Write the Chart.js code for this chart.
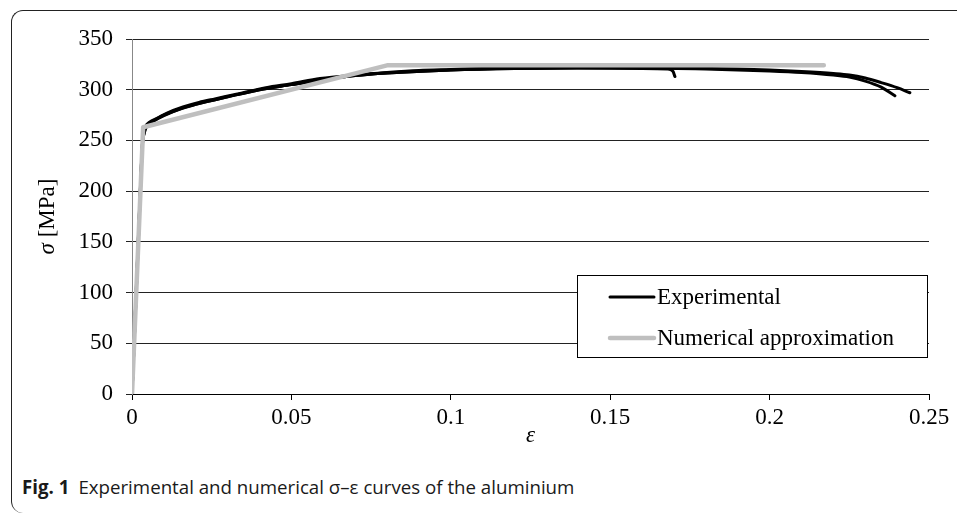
<!DOCTYPE html>
<html>
<head>
<meta charset="utf-8">
<script src="https://cdn.jsdelivr.net/npm/chart.js@4/dist/chart.umd.min.js"></script>
<style>
  html, body { margin: 0; padding: 0; background: #fff; }
  body { width: 957px; height: 515px; position: relative; overflow: hidden; }
  #frame {
    position: absolute; left: 11px; top: 10px; width: 960px; height: 503px;
    border-left: 1px solid #222; border-top: 1px solid #222;
    border-radius: 12px 0 0 12px; box-sizing: border-box;
  }
  #wrap { position: absolute; left: 0; top: 0; width: 957px; height: 460px; }
  #caption {
    position: absolute; left: 22px; top: 474px; font-family: "Open Sans", sans-serif;
    font-size: 18.7px; color: #1a1a1a; white-space: nowrap;
  }
  #caption b { font-weight: 700; margin-right: 9px; }
</style>
</head>
<body>
<div id="frame"></div>
<div id="wrap"><canvas id="chart"></canvas></div>
<div id="caption"><b>Fig. 1</b>Experimental and numerical σ–ε curves of the aluminium</div>
<script>
// experimental specimen 1 (longest)
const expStrain1 = [0, 0.0013, 0.0026, 0.0033, 0.0037, 0.0043, 0.0055, 0.008, 0.011, 0.016, 0.021, 0.026, 0.032, 0.042, 0.05, 0.059, 0.07, 0.08, 0.09, 0.1, 0.11, 0.12, 0.135, 0.15, 0.165, 0.18, 0.19, 0.2, 0.21, 0.22, 0.225, 0.23, 0.235, 0.24, 0.244];
const expStress1 = [0, 100, 200, 248, 258, 264, 268, 272, 277, 283, 287.5, 291, 295, 302, 306, 311, 314.5, 317, 319, 320, 321, 321.5, 322, 322, 321.5, 321, 320.5, 319.5, 318, 316, 314.5, 311.5, 307, 302, 297];
// experimental specimen 2
const expStrain2 = [0, 0.0013, 0.0026, 0.0033, 0.0038, 0.0045, 0.007, 0.01, 0.015, 0.02, 0.03, 0.04, 0.05, 0.06, 0.07, 0.08, 0.1, 0.12, 0.14, 0.16, 0.18, 0.2, 0.21, 0.22, 0.225, 0.23, 0.235, 0.2393];
const expStress2 = [0, 98, 198, 247, 257, 264, 269.5, 274.5, 281, 285.5, 293, 300, 305, 310, 314, 316.5, 319.5, 321, 321.5, 321.5, 320.5, 318.5, 317, 314.5, 312.5, 308.5, 302.5, 294];
// experimental specimen 3 (early break)
const expStrain3 = [0, 0.0013, 0.0026, 0.0033, 0.0038, 0.0046, 0.007, 0.01, 0.015, 0.02, 0.03, 0.04, 0.05, 0.06, 0.07, 0.08, 0.1, 0.12, 0.14, 0.16, 0.168, 0.1697, 0.1703];
const expStress3 = [0, 98, 199, 247, 257, 264, 270, 275, 281, 285.5, 293, 300, 305, 310, 314, 316.5, 319.5, 321, 321.5, 321, 320.5, 318, 313];
// numerical approximation (bilinear)
const numStrain = [0, 0.0035, 0.08, 0.217];
const numStress = [0, 263, 324, 324];

const xTicks = [0, 0.05, 0.1, 0.15, 0.2, 0.25];
const yTicks = [0, 50, 100, 150, 200, 250, 300, 350];

const toPoints = (xs, ys) => xs.map((x, i) => ({ x: x, y: ys[i] }));

const serif = '"Liberation Serif", "Times New Roman", serif';

const titlesAndLegend = {
    id: 'titlesAndLegend',
    afterDraw(chart) {
        const ctx = chart.ctx;
        const area = chart.chartArea;
        ctx.save();
        // y axis title: italic sigma + [MPa]
        const a = 'σ', b = ' [MPa]';
        ctx.font = 'italic 23px ' + serif;
        const wa = ctx.measureText(a).width;
        ctx.font = '23px ' + serif;
        const wb = ctx.measureText(b).width;
        ctx.translate(54, (area.top + area.bottom) / 2);
        ctx.rotate(-Math.PI / 2);
        ctx.fillStyle = '#000';
        ctx.textBaseline = 'alphabetic';
        ctx.textAlign = 'left';
        ctx.font = 'italic 23px ' + serif;
        ctx.fillText(a, -(wa + wb) / 2, 0);
        ctx.font = '23px ' + serif;
        ctx.fillText(b, -(wa + wb) / 2 + wa, 0);
        ctx.restore();

        // x axis title
        ctx.save();
        ctx.font = 'italic 23px ' + serif;
        ctx.fillStyle = '#000';
        ctx.textAlign = 'center';
        ctx.textBaseline = 'alphabetic';
        ctx.fillText('ε', (area.left + area.right) / 2, 442);
        ctx.restore();

        // legend box
        const entries = chart.data.datasets
            .filter(d => d.legendIndex !== undefined)
            .sort((p, q) => p.legendIndex - q.legendIndex);
        ctx.save();
        ctx.fillStyle = '#fff';
        ctx.fillRect(577.5, 275.5, 350, 82);
        ctx.strokeStyle = '#000';
        ctx.lineWidth = 1;
        ctx.strokeRect(577.5, 275.5, 350, 82);
        entries.forEach((d, i) => {
            const y = 297 + i * 41;
            ctx.strokeStyle = d.borderColor;
            ctx.lineWidth = d.borderWidth;
            ctx.lineCap = d.borderCapStyle || 'butt';
            ctx.beginPath();
            ctx.moveTo(610, y);
            ctx.lineTo(654, y);
            ctx.stroke();
            ctx.fillStyle = '#000';
            ctx.font = '23px ' + serif;
            ctx.textBaseline = 'middle';
            ctx.textAlign = 'left';
            ctx.fillText(d.label, 657, y + 1);
        });
        ctx.restore();
    }
};

const ctx = document.getElementById('chart').getContext('2d');

new Chart(ctx, {
    type: 'line',
    data: {
        datasets: [
            {
                label: 'Numerical approximation',
                data: toPoints(numStrain, numStress),
                borderColor: '#bfbfbf',
                borderWidth: 4.5,
                borderCapStyle: 'round',
                borderJoinStyle: 'round',
                tension: 0,
                order: 0,
                legendIndex: 1
            },
            {
                label: 'Experimental',
                data: toPoints(expStrain1, expStress1),
                borderColor: '#000',
                borderWidth: 3,
                borderCapStyle: 'round',
                cubicInterpolationMode: 'monotone',
                order: 1,
                legendIndex: 0
            },
            {
                label: 'Experimental 2',
                data: toPoints(expStrain2, expStress2),
                borderColor: '#000',
                borderWidth: 3,
                borderCapStyle: 'round',
                cubicInterpolationMode: 'monotone',
                order: 2
            },
            {
                label: 'Experimental 3',
                data: toPoints(expStrain3, expStress3),
                borderColor: '#000',
                borderWidth: 3,
                borderCapStyle: 'round',
                cubicInterpolationMode: 'monotone',
                order: 3
            }
        ]
    },
    options: {
        responsive: true,
        maintainAspectRatio: false,
        animation: false,
        elements: { point: { radius: 0, hoverRadius: 0 } },
        layout: { padding: { left: 0, top: 39, right: 28, bottom: 0 } },
        plugins: {
            legend: { display: false },
            tooltip: { enabled: false }
        },
        scales: {
            x: {
                type: 'linear',
                min: 0,
                max: 0.25,
                afterFit: s => { s.height = 66; },
                afterBuildTicks: s => { s.ticks = xTicks.map(v => ({ value: v })); },
                border: { display: true, color: '#000', width: 1 },
                grid: { drawOnChartArea: false, drawTicks: true, tickLength: 6, color: '#000' },
                ticks: {
                    color: '#000',
                    padding: 4,
                    maxRotation: 0,
                    font: { family: serif, size: 23 },
                    callback: v => String(+v.toFixed(2))
                }
            },
            y: {
                min: 0,
                max: 350,
                afterFit: s => { s.width = 132; },
                afterBuildTicks: s => { s.ticks = yTicks.map(v => ({ value: v })); },
                border: { display: true, color: '#888', width: 1 },
                grid: { color: '#222', tickLength: 6, lineWidth: 1 },
                ticks: {
                    color: '#000',
                    padding: 13,
                    font: { family: serif, size: 23 }
                }
            }
        }
    },
    plugins: [titlesAndLegend]
});
</script>
</body>
</html>
